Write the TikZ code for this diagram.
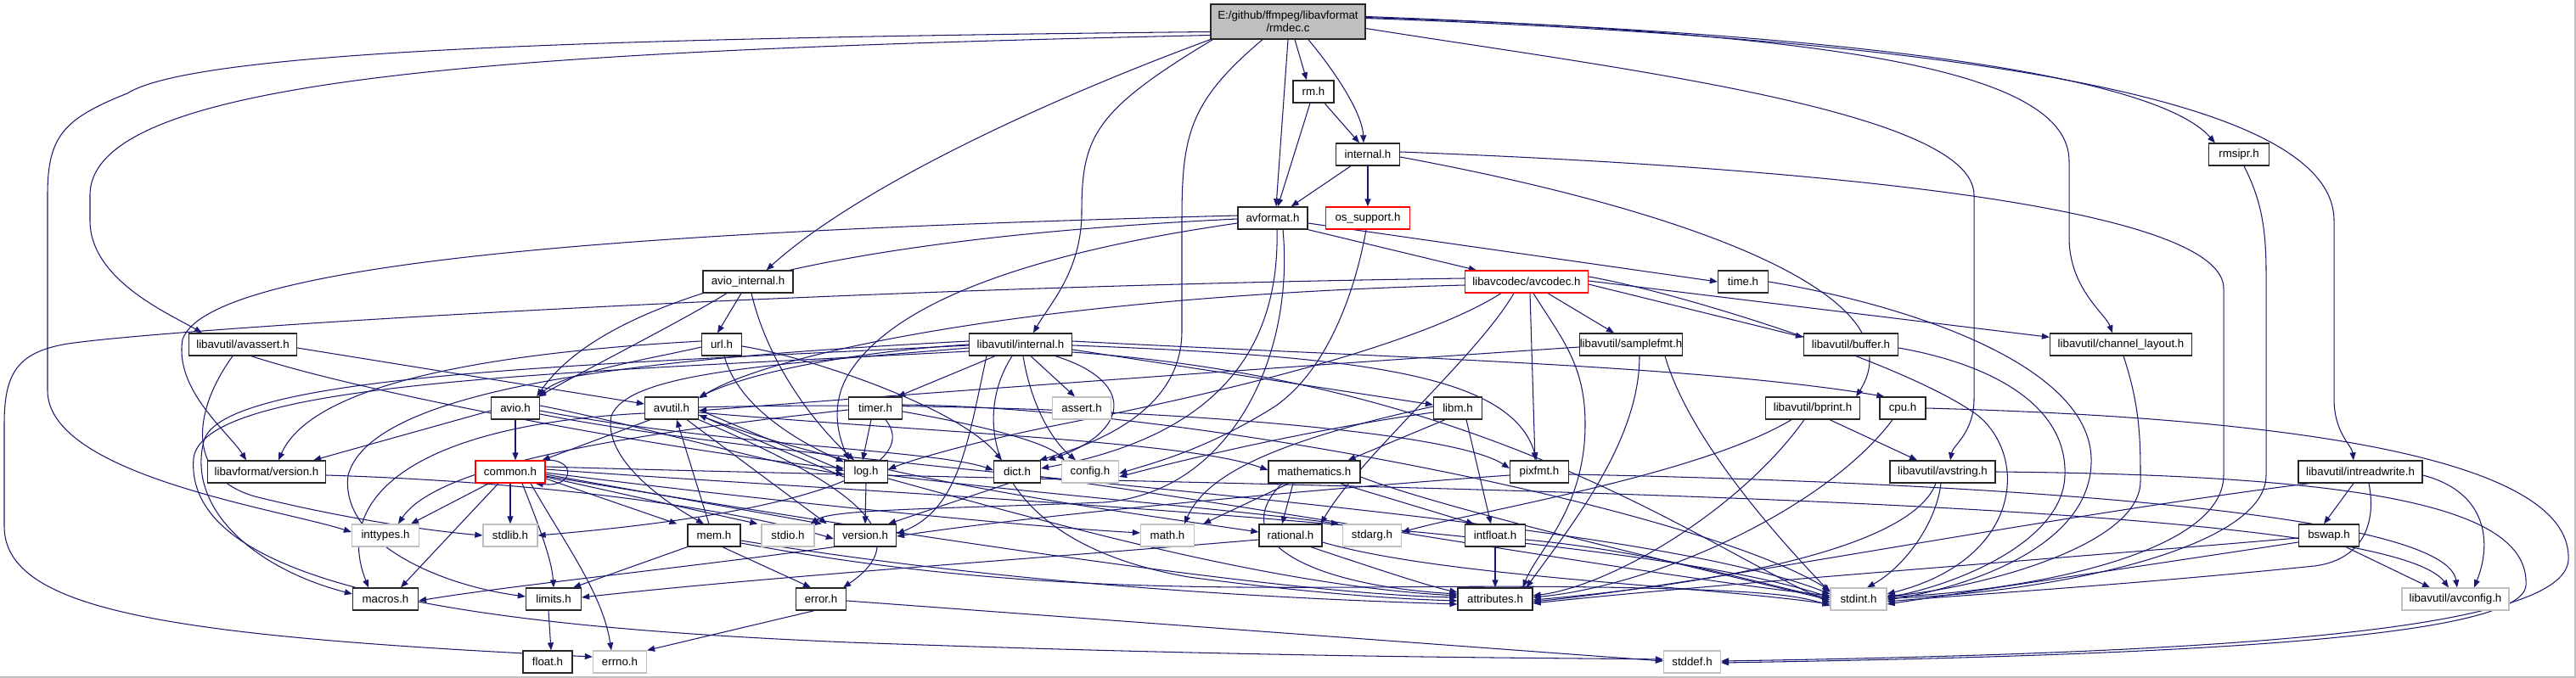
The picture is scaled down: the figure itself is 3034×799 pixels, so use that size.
\documentclass[tikz,border=0pt]{standalone}
\usepackage{fontspec}
\setmainfont{Liberation Sans}
\usetikzlibrary{arrows.meta}
\definecolor{edgec}{HTML}{191970}
\definecolor{lgray}{HTML}{BFBFBF}
\pgfdeclarelayer{bg}
\pgfsetlayers{bg,main}
\begin{document}
\begin{tikzpicture}[x=1pt,y=-1pt,
  nb/.style={draw=black!85, line width=1.3pt, fill=white, inner sep=0pt, minimum height=26pt,
    font=\fontsize{13.3}{15}\selectfont, text=black},
  ng/.style={nb, draw=lgray},
  nr/.style={nb, draw=red},
  e/.style={draw=edgec, line width=1.05pt, -{Triangle[length=9pt,width=7pt]}}]
\useasboundingbox (0,0) rectangle (3034,799);

% nodes
\node[nb, fill=lgray, minimum width=182pt, minimum height=41pt, align=center] (rmdec) at (1517,25.5) {E:/github/ffmpeg/libavformat\\/rmdec.c};
\node[nb, minimum width=48pt] (rmh) at (1547,108) {rm.h};
\node[nb, minimum width=75pt] (internalh) at (1611,182) {internal.h};
\node[nb, minimum width=82pt] (avformath) at (1499,257) {avformat.h};
\node[nr, minimum width=99pt] (ossupport) at (1611,257) {os\_support.h};
\node[nb, minimum width=71pt] (rmsipr) at (2637,182) {rmsipr.h};
\node[nr, minimum width=145pt] (avcodec) at (1798,332) {libavcodec/avcodec.h};
\node[nb, minimum width=59pt] (timeh) at (2053,332) {time.h};
\node[nb, minimum width=106pt] (aviointernal) at (881,332) {avio\_internal.h};
\node[nb, minimum width=127pt] (avassert) at (286,406) {libavutil/avassert.h};
\node[nb, minimum width=47pt] (urlh) at (850,406) {url.h};
\node[nb, minimum width=121pt] (lavuinternal) at (1202,406) {libavutil/internal.h};
\node[nb, minimum width=121pt] (samplefmt) at (1921,406) {libavutil/samplefmt.h};
\node[nb, minimum width=111pt] (buffer) at (2180,406) {libavutil/buffer.h};
\node[nb, minimum width=167pt] (chlayout) at (2498,406) {libavutil/channel\_layout.h};
\node[nb, minimum width=57pt] (avioh) at (607,481) {avio.h};
\node[nb, minimum width=63pt] (avutilh) at (791,481) {avutil.h};
\node[nb, minimum width=63pt] (timerh) at (1031,481) {timer.h};
\node[ng, minimum width=69pt] (asserth) at (1274,481) {assert.h};
\node[nb, minimum width=57pt] (libmh) at (1717,481) {libm.h};
\node[nb, minimum width=111pt] (bprint) at (2135,481) {libavutil/bprint.h};
\node[nb, minimum width=54pt] (cpuh) at (2241,481) {cpu.h};
\node[nb, minimum width=139pt] (lafversion) at (314,556) {libavformat/version.h};
\node[nr, minimum width=82pt] (commonh) at (601,556) {common.h};
\node[nb, minimum width=51pt] (logh) at (1020,556) {log.h};
\node[nb, minimum width=55pt] (dicth) at (1198,556) {dict.h};
\node[ng, minimum width=67pt] (configh) at (1284,556) {config.h};
\node[nb, minimum width=108pt] (mathematics) at (1548,556) {mathematics.h};
\node[nb, minimum width=69pt] (pixfmt) at (1813,556) {pixfmt.h};
\node[nb, minimum width=124pt] (avstring) at (2288,556) {libavutil/avstring.h};
\node[nb, minimum width=146pt] (intreadwrite) at (2780,556) {libavutil/intreadwrite.h};
\node[ng, minimum width=79pt] (inttypes) at (454,631) {inttypes.h};
\node[ng, minimum width=64pt] (stdlib) at (601,631) {stdlib.h};
\node[nb, minimum width=62pt] (memh) at (841,631) {mem.h};
\node[ng, minimum width=62pt] (stdio) at (928,631) {stdio.h};
\node[nb, minimum width=73pt] (versionh) at (1019,631) {version.h};
\node[ng, minimum width=63pt] (mathh) at (1375,631) {math.h};
\node[nb, minimum width=74pt] (rational) at (1520,631) {rational.h};
\node[ng, minimum width=69pt] (stdarg) at (1616,631) {stdarg.h};
\node[nb, minimum width=71pt] (intfloat) at (1761,631) {intfloat.h};
\node[nb, minimum width=71pt] (bswap) at (2743,631) {bswap.h};
\node[nb, minimum width=77pt] (macros) at (454,706) {macros.h};
\node[nb, minimum width=65pt] (limits) at (652,706) {limits.h};
\node[nb, minimum width=59pt] (errorh) at (967,706) {error.h};
\node[nb, minimum width=88pt] (attributes) at (1761,706) {attributes.h};
\node[ng, minimum width=66pt] (stdint) at (2189,706) {stdint.h};
\node[ng, minimum width=126pt] (avconfig) at (2892,706) {libavutil/avconfig.h};
\node[nb, minimum width=58pt] (floath) at (645,780) {float.h};
\node[ng, minimum width=63pt] (errno) at (730,780) {errno.h};
\node[ng, minimum width=67pt] (stddef) at (1993,780) {stddef.h};

\begin{pgfonlayer}{bg}
\fill[white] (0,0) rectangle (3034,799);
\draw[lgray, line width=1.5pt] (3033,0) -- (3033,798) -- (0,798);

% rmdec.c
\draw[e] ([yshift=-12pt]rmdec.west) .. controls (700,45) and (230,60) .. (150,110) .. controls (75,140) and (56,160) .. (56,230) -- (56,460) .. controls (56,560) and (330,600) .. ([yshift=4pt]inttypes.west);
\draw[e] ([yshift=-16pt]rmdec.west) .. controls (600,60) and (106,90) .. (106,230) -- (106,260) .. controls (106,330) and (200,370) .. ([xshift=16pt]avassert.north west);
\draw[e] (rmdec.south west) .. controls (1200,130) and (1000,230) .. ([xshift=-32pt]aviointernal.north east);
\draw[e] ([xshift=3pt]rmdec.south west) .. controls (1290,130) and (1274,160) .. (1274,250) .. controls (1274,320) and (1235,360) .. ([xshift=15pt]lavuinternal.north);
\draw[e] ([xshift=-30pt]rmdec.south) .. controls (1400,120) and (1392,160) .. (1392,260) -- (1392,390) .. controls (1392,480) and (1300,520) .. ([xshift=-2pt]dicth.north east);
\draw[e] (rmdec.south) -- ([xshift=4pt]avformath.north);
\draw[e] ([xshift=8pt]rmdec.south) -- ([xshift=-8pt]rmh.north);
\draw[e] ([xshift=24pt]rmdec.south) .. controls (1585,100) and (1605,140) .. ([xshift=-5pt]internalh.north);
\draw[e] ([yshift=-8pt]rmdec.east) .. controls (1900,80) and (2325,130) .. (2325,230) -- (2325,470) .. controls (2325,510) and (2300,525) .. ([xshift=9pt]avstring.north);
\draw[e] ([yshift=6pt]rmdec.east) .. controls (2150,40) and (2437,80) .. (2437,190) -- (2437,280) .. controls (2437,340) and (2480,370) .. ([xshift=-10pt]chlayout.north);
\draw[e] ([yshift=5pt]rmdec.east) .. controls (2200,40) and (2540,90) .. ([xshift=8pt]rmsipr.north west);
\draw[e] ([yshift=4pt]rmdec.east) .. controls (2400,50) and (2749,130) .. (2749,260) -- (2749,470) .. controls (2749,510) and (2770,525) .. ([xshift=-8pt]intreadwrite.north);

% rm.h, internal.h, os_support.h, rmsipr.h
\draw[e] ([xshift=-4pt]rmh.south) -- ([xshift=6pt]avformath.north);
\draw[e] ([xshift=13pt]rmh.south) -- ([xshift=-10pt]internalh.north);
\draw[e] ([xshift=-20pt]internalh.south) -- ([xshift=-20pt]avformath.north east);
\draw[e] (internalh.south) -- (ossupport.north);
\draw[e] ([yshift=3pt]internalh.east) .. controls (2200,200) and (2619,250) .. (2619,340) -- (2619,560) .. controls (2619,660) and (2350,700) .. ([yshift=3pt]stdint.east);
\draw[e] ([yshift=-3pt]internalh.east) .. controls (2000,250) and (2260,350) .. ([xshift=-5pt]bprint.north east);
\draw[e] ([xshift=6pt]rmsipr.south) .. controls (2660,230) and (2669,260) .. (2669,320) -- (2669,560) .. controls (2669,650) and (2400,700) .. ([yshift=1pt]stdint.east);
\draw[e] ([xshift=-2pt]ossupport.south) .. controls (1595,350) and (1560,440) .. (1500,480) .. controls (1420,530) and (1360,545) .. ([yshift=-2pt]configh.east);

% avformat.h
\draw[e] ([yshift=-6pt]avformath.east) -- (timeh.west);
\draw[e] (avformath.south east) -- ([xshift=14pt]avcodec.north west);
\draw[e] ([yshift=3pt]avformath.west) .. controls (850,270) and (250,300) .. (215,400) .. controls (205,460) and (270,510) .. ([xshift=-24pt]lafversion.north);
\draw[e] ([yshift=-1pt]avformath.west) .. controls (900,285) and (700,370) .. ([xshift=-4pt]avioh.north east);
\draw[e] ([yshift=-6pt]avformath.west) .. controls (1200,300) and (1050,360) .. (1000,440) .. controls (975,480) and (990,520) .. ([xshift=-20pt]logh.north);
\draw[e] ([xshift=5pt]avformath.south) .. controls (1508,440) and (1400,520) .. ([yshift=4pt]dicth.east);
\draw[e] ([xshift=12pt]avformath.south) .. controls (1525,420) and (1450,580) .. (1300,592) .. controls (1100,600) and (980,600) .. ([xshift=-5pt]stdio.north east);

% avcodec.h
\draw[e] ([yshift=4pt]avcodec.west) .. controls (1000,338) and (220,385) .. (80,405) .. controls (20,415) and (5,440) .. (5,500) -- (5,620) .. controls (5,720) and (200,750) .. ([yshift=6pt]errno.west);
\draw[e] ([yshift=-4pt]avcodec.west) .. controls (1200,350) and (900,420) .. ([yshift=-2pt]avutilh.north east);
\draw[e] ([xshift=25pt]avcodec.south) -- ([xshift=-20pt]samplefmt.north);
\draw[e] ([xshift=8pt]avcodec.south) .. controls (1840,400) and (1867,430) .. (1867,500) .. controls (1867,600) and (1810,650) .. ([xshift=-12pt]attributes.north east);
\draw[e] ([xshift=4pt]avcodec.south) -- ([xshift=-5pt]pixfmt.north);
\draw[e] ([xshift=-30pt]avcodec.south) .. controls (1650,420) and (1350,480) .. (1250,500) .. controls (1150,520) and (1080,540) .. ([yshift=3pt]logh.east);
\draw[e] ([xshift=-15pt]avcodec.south) .. controls (1740,420) and (1600,540) .. ([xshift=-2pt]rational.north east);
\draw[e] ([yshift=-3pt]avcodec.east) -- ([yshift=-5pt]buffer.north west);
\draw[e] ([yshift=1pt]avcodec.east) -- ([yshift=-5pt]chlayout.north west);
\draw[e] ([yshift=6pt]avcodec.east) .. controls (1980,345) and (2250,430) .. (2330,490) .. controls (2390,540) and (2380,660) .. ([yshift=6pt]stdint.east);

% time, buffer, channel_layout
\draw[e] (timeh.east) .. controls (2250,360) and (2460,430) .. (2463,540) .. controls (2466,650) and (2300,695) .. ([yshift=-1pt]stdint.east);
\draw[e] ([yshift=-4pt]buffer.east) .. controls (2350,430) and (2435,480) .. (2432,560) .. controls (2430,640) and (2300,690) .. ([yshift=2pt]stdint.east);
\draw[e] ([xshift=3pt]chlayout.south) .. controls (2521,480) and (2521,520) .. (2521,567) .. controls (2521,650) and (2300,698) .. ([yshift=4pt]stdint.east);

% avio_internal, url
\draw[e] ([xshift=-25pt]aviointernal.south) .. controls (800,380) and (700,430) .. ([xshift=-2pt]avioh.north east);
\draw[e] ([xshift=-8pt]aviointernal.south) -- ([xshift=-5pt]urlh.north);
\draw[e] ([xshift=4pt]aviointernal.south) .. controls (905,430) and (960,500) .. ([xshift=-14pt]logh.north);
\draw[e] ([yshift=-3pt]urlh.west) .. controls (780,420) and (660,440) .. ([xshift=-1pt]avioh.north east);
\draw[e] ([yshift=4pt]urlh.west) .. controls (500,420) and (360,470) .. ([xshift=14pt]lafversion.north);
\draw[e] ([xshift=3pt]urlh.south) .. controls (870,480) and (940,520) .. ([yshift=-2pt]logh.north west);
\draw[e] ([yshift=-2pt]urlh.east) .. controls (950,420) and (1130,480) .. ([xshift=10pt]dicth.north west);

% avassert
\draw[e] ([yshift=-4pt]avassert.east) -- ([yshift=5pt]avutilh.west);
\draw[e] ([xshift=10pt]avassert.south) .. controls (450,470) and (850,540) .. ([yshift=4pt]logh.west);
\draw[e] ([xshift=-12pt]avassert.south) .. controls (230,480) and (215,560) .. (300,585) .. controls (400,610) and (500,625) .. (stdlib.west);

% libavutil/internal.h
\draw[e] (lavuinternal.west) .. controls (1000,415) and (880,440) .. ([yshift=-1pt]avutilh.north east);
\draw[e] ([xshift=-30pt]lavuinternal.south) -- ([xshift=-6pt]timerh.north east);
\draw[e] ([xshift=12pt]lavuinternal.south) -- ([xshift=-8pt]asserth.north);
\draw[e] ([xshift=3pt]lavuinternal.south) .. controls (1215,480) and (1240,520) .. ([xshift=-17pt]configh.north);
\draw[e] ([xshift=-20pt]lavuinternal.south east) .. controls (1340,450) and (1330,510) .. ([xshift=8pt]dicth.north east);
\draw[e] ([yshift=-6pt]lavuinternal.east) -- ([yshift=4pt]libmh.west);
\draw[e] ([yshift=-1pt]lavuinternal.east) .. controls (1600,420) and (1780,440) .. ([xshift=-3pt]pixfmt.north);
\draw[e] ([yshift=4pt]lavuinternal.east) .. controls (1600,420) and (2000,430) .. ([xshift=6pt]cpuh.north west);
\draw[e] ([yshift=-9pt]lavuinternal.east) .. controls (1750,450) and (2000,640) .. ([yshift=-4pt]stdint.west);
\draw[e] ([xshift=-10pt]lavuinternal.south) .. controls (1140,500) and (1170,640) .. (1400,680) .. controls (1550,700) and (1650,706) .. ([yshift=-2pt]attributes.west);
\draw[e] ([xshift=-40pt]lavuinternal.south) .. controls (1140,520) and (1130,600) .. ([yshift=2pt]versionh.east);
\draw[e] ([yshift=-4pt]lavuinternal.west) .. controls (900,430) and (740,440) .. (720,490) .. controls (710,540) and (780,590) .. ([xshift=-12pt]memh.north);
\draw[e] ([yshift=4pt]lavuinternal.west) .. controls (800,420) and (440,450) .. (410,560) .. controls (400,640) and (520,690) .. ([yshift=3pt]limits.west);
\draw[e] ([yshift=-1pt]lavuinternal.west) .. controls (700,430) and (260,440) .. (240,520) .. controls (220,600) and (300,670) .. ([yshift=6pt]macros.west);
\draw[e] ([yshift=-8pt]lavuinternal.west) .. controls (650,440) and (240,450) .. (228,540) .. controls (215,700) and (600,740) .. (1000,757) .. controls (1500,775) and (1800,775) .. ([yshift=3pt]stddef.west);

% samplefmt
\draw[e] ([yshift=-3pt]samplefmt.west) .. controls (1400,440) and (1000,470) .. ([yshift=-3pt]avutilh.east);
\draw[e] ([xshift=10pt]samplefmt.south) .. controls (1931,520) and (1850,620) .. ([xshift=-8pt]attributes.north east);
\draw[e] ([xshift=40pt]samplefmt.south) .. controls (1990,520) and (2100,640) .. ([yshift=8pt]stdint.west);

% avutil.h
\draw[e] ([xshift=-25pt]avutilh.south) -- ([xshift=-4pt]commonh.north east);
\draw[e] ([yshift=-2pt]avutilh.east) -- ([yshift=1pt]logh.west);
\draw[e] ([xshift=18pt]avutilh.south) -- ([xshift=-8pt]versionh.north west);
\draw[e] (avutilh.south east) .. controls (1000,570) and (1085,630) .. ([xshift=-4pt]errorh.north east);
\draw[e] ([yshift=-8pt]avutilh.east) .. controls (1000,560) and (1300,600) .. ([yshift=4pt]rational.west);
\draw[e] ([yshift=-6pt]avutilh.west) .. controls (500,500) and (390,580) .. ([xshift=-20pt]macros.north);
\draw[e] ([yshift=-5pt]avutilh.east) .. controls (1100,510) and (1400,520) .. ([yshift=2pt]mathematics.west);
\draw[e] ([yshift=1pt]avutilh.east) .. controls (1200,470) and (1700,500) .. ([yshift=4pt]pixfmt.west);

% avio.h
\draw[e] (avioh.south) -- ([xshift=6pt]commonh.north);
\draw[e] ([yshift=-3pt]avioh.west) -- ([xshift=-15pt]lafversion.north east);
\draw[e] ([yshift=-3pt]avioh.east) .. controls (850,525) and (1100,530) .. ([yshift=2pt]dicth.west);
\draw[e] ([yshift=3pt]avioh.east) .. controls (750,500) and (900,545) .. ([yshift=-3pt]logh.west);
\draw[e] ([yshift=-7pt]avioh.east) .. controls (1000,560) and (1900,600) .. ([yshift=6pt]stdint.west);

% timer.h
\draw[e] ([xshift=-5pt]timerh.south) -- ([xshift=-4pt]logh.north);
\draw[e] ([yshift=-4pt]timerh.east) .. controls (1150,500) and (1230,520) .. ([xshift=4pt]configh.north west);
\draw[e] ([xshift=12pt]timerh.south) .. controls (1080,540) and (1000,600) .. (stdlib.east);
\draw[e] ([yshift=-2pt]timerh.west) .. controls (800,505) and (520,540) .. ([xshift=15pt]inttypes.north);
\draw[e] ([yshift=4pt]timerh.east) .. controls (1400,480) and (2000,600) .. ([yshift=10pt]stdint.west);

% libm.h
\draw[e] ([xshift=-15pt]libmh.south) -- ([xshift=-15pt]mathematics.north east);
\draw[e] ([yshift=-5pt]libmh.west) .. controls (1550,505) and (1400,540) .. ([yshift=-6pt]configh.east);
\draw[e] ([yshift=2pt]libmh.west) .. controls (1500,520) and (1420,560) .. ([xshift=20pt]mathh.north);
\draw[e] ([xshift=10pt]libmh.south) -- ([xshift=-5pt]intfloat.north);

% bprint, cpu, avstring, intreadwrite, bswap
\draw[e] ([xshift=20pt]bprint.south) -- ([xshift=-30pt]avstring.north);
\draw[e] ([xshift=-25pt]bprint.south) .. controls (2000,560) and (1750,600) .. ([yshift=4pt]stdarg.east);
\draw[e] ([xshift=-10pt]bprint.south) .. controls (2050,600) and (1900,690) .. ([yshift=4pt]attributes.east);
\draw[e] ([xshift=-12pt]cpuh.south) .. controls (2150,600) and (1950,690) .. ([yshift=2pt]attributes.east);
\draw[e] (cpuh.east) .. controls (2800,495) and (3030,560) .. (3025,660) .. controls (3020,745) and (2600,770) .. ([yshift=1pt]stddef.east);
\draw[e] (avstring.east) .. controls (2800,560) and (2980,600) .. (2975,690) .. controls (2970,750) and (2600,772) .. ([yshift=-1pt]stddef.east);
\draw[e] ([xshift=-8pt]avstring.south) .. controls (2250,650) and (2000,690) .. ([yshift=-1pt]attributes.east);
\draw[e] ([xshift=-2pt]avstring.south) .. controls (2280,620) and (2240,670) .. ([xshift=10pt]stdint.north);
\draw[e] ([xshift=-8pt]intreadwrite.south) -- ([xshift=-6pt]bswap.north);
\draw[e] ([xshift=10pt]intreadwrite.south) .. controls (2800,620) and (2780,660) .. (2726,667) .. controls (2500,690) and (2300,702) .. ([yshift=-3pt]stdint.east);
\draw[e] ([xshift=-60pt]intreadwrite.south) .. controls (2400,610) and (2000,690) .. ([yshift=-3pt]attributes.east);
\draw[e] ([yshift=-4pt]intreadwrite.east) .. controls (2930,580) and (2935,640) .. ([xshift=22pt]avconfig.north);
\draw[e] ([yshift=-3pt]bswap.west) .. controls (2400,660) and (2000,690) .. ([yshift=-5pt]attributes.east);
\draw[e] ([yshift=-8pt]bswap.west) -- ([yshift=-6pt]stdint.east);
\draw[e] ([xshift=20pt]bswap.south) -- ([xshift=-30pt]avconfig.north);

% common.h
\draw[e] ([xshift=-25pt]commonh.south) -- ([xshift=30pt]inttypes.north);
\draw[e] (commonh.south) -- (stdlib.north);
\draw[e] ([xshift=-14pt]commonh.south) -- ([xshift=18pt]macros.north);
\draw[e] ([xshift=14pt]commonh.south) .. controls (635,620) and (650,660) .. (limits.north);
\draw[e] ([xshift=24pt]commonh.south) .. controls (665,640) and (710,700) .. ([xshift=-10pt]errno.north);
\draw[e] ([yshift=-8pt]commonh.east) -- ([xshift=-12pt]memh.north west);
\draw[e] ([yshift=-6pt]commonh.east) -- ([xshift=-4pt]stdio.north west);
\draw[e] ([yshift=-3pt]commonh.east) -- ([xshift=-14pt]versionh.north west);
\draw[e] ([yshift=-1pt]commonh.east) .. controls (900,590) and (1200,620) .. ([yshift=3pt]mathh.west);
\draw[e] ([yshift=-5pt]commonh.east) .. controls (1000,620) and (1500,700) .. ([yshift=2pt]attributes.west);
\draw[e] ([yshift=3pt]commonh.east) .. controls (1000,580) and (1900,620) .. ([yshift=2pt]stdint.west);
\draw[e] ([yshift=6pt]commonh.east) .. controls (1500,575) and (2800,580) .. ([xshift=-8pt]avconfig.north);
\draw[e] (commonh.north east) .. controls (678,540) and (678,575) .. ([xshift=-12pt]commonh.south east);

% log.h, dict.h
\draw[e] (logh.south) -- (versionh.north);
\draw[e] ([yshift=-6pt]logh.west) -- ([yshift=-8pt]avutilh.east);
\draw[e] ([yshift=-4pt]logh.east) .. controls (1200,580) and (1450,600) .. ([xshift=-4pt]stdarg.north west);
\draw[e] ([yshift=-8pt]logh.east) .. controls (1250,620) and (1500,690) .. ([yshift=4pt]attributes.west);
\draw[e] ([xshift=-10pt]dicth.south) -- ([xshift=-10pt]versionh.north east);
\draw[e] ([yshift=-6pt]dicth.east) .. controls (1500,600) and (1950,680) .. ([yshift=4pt]stdint.west);

% mathematics, rational, intfloat, pixfmt
\draw[e] ([xshift=-25pt]mathematics.south) -- ([xshift=-10pt]rational.north);
\draw[e] ([xshift=-30pt]mathematics.south) -- ([xshift=10pt]mathh.north east);
\draw[e] ([xshift=30pt]mathematics.south) -- ([xshift=-25pt]intfloat.north);
\draw[e] ([xshift=-38pt]mathematics.south) .. controls (1440,640) and (1550,690) .. ([yshift=6pt]attributes.west);
\draw[e] ([yshift=-6pt]mathematics.east) .. controls (1700,600) and (2000,670) .. ([yshift=-1pt]stdint.west);
\draw[e] ([xshift=24pt]rational.south) .. controls (1620,670) and (1680,690) .. ([yshift=8pt]attributes.west);
\draw[e] ([yshift=-5pt]rational.west) .. controls (1200,660) and (900,680) .. ([yshift=2pt]limits.east);
\draw[e] ([yshift=-8pt]rational.east) .. controls (1700,680) and (2000,690) .. ([yshift=-6pt]stdint.west);
\draw[e] (intfloat.south) -- (attributes.north);
\draw[e] ([yshift=-5pt]intfloat.east) .. controls (1950,650) and (2080,690) .. ([yshift=1pt]stdint.west);
\draw[e] ([yshift=-3pt]pixfmt.east) .. controls (2300,568) and (2880,600) .. ([xshift=2pt]avconfig.north);
\draw[e] ([yshift=-4pt]pixfmt.west) .. controls (1500,580) and (1200,610) .. ([yshift=-1pt]versionh.east);

% mem, version, error, limits, lafversion
\draw[e] ([xshift=-6pt]memh.north) -- ([xshift=6pt]avutilh.south);
\draw[e] (memh.south west) -- ([xshift=-10pt]limits.north east);
\draw[e] ([xshift=10pt]memh.south) -- ([xshift=-12pt]errorh.north);
\draw[e] ([yshift=-6pt]memh.east) .. controls (1200,690) and (1500,705) .. ([yshift=-6pt]attributes.west);
\draw[e] ([yshift=-9pt]memh.east) .. controls (1300,720) and (1600,680) .. (2000,695) .. controls (2080,698) and (2120,702) .. ([yshift=-8pt]stdint.west);
\draw[e] (versionh.south west) .. controls (800,670) and (600,690) .. ([yshift=-2pt]macros.east);
\draw[e] ([yshift=-4pt]lafversion.east) .. controls (700,570) and (900,610) .. ([yshift=-4pt]versionh.west);
\draw[e] ([xshift=-8pt]errorh.south) -- (errno.north east);
\draw[e] ([yshift=-2pt]errorh.east) -- ([yshift=1pt]stddef.west);
\draw[e] ([xshift=-6pt]limits.south) -- ([xshift=4pt]floath.north);
\end{pgfonlayer}
\end{tikzpicture}
\end{document}
